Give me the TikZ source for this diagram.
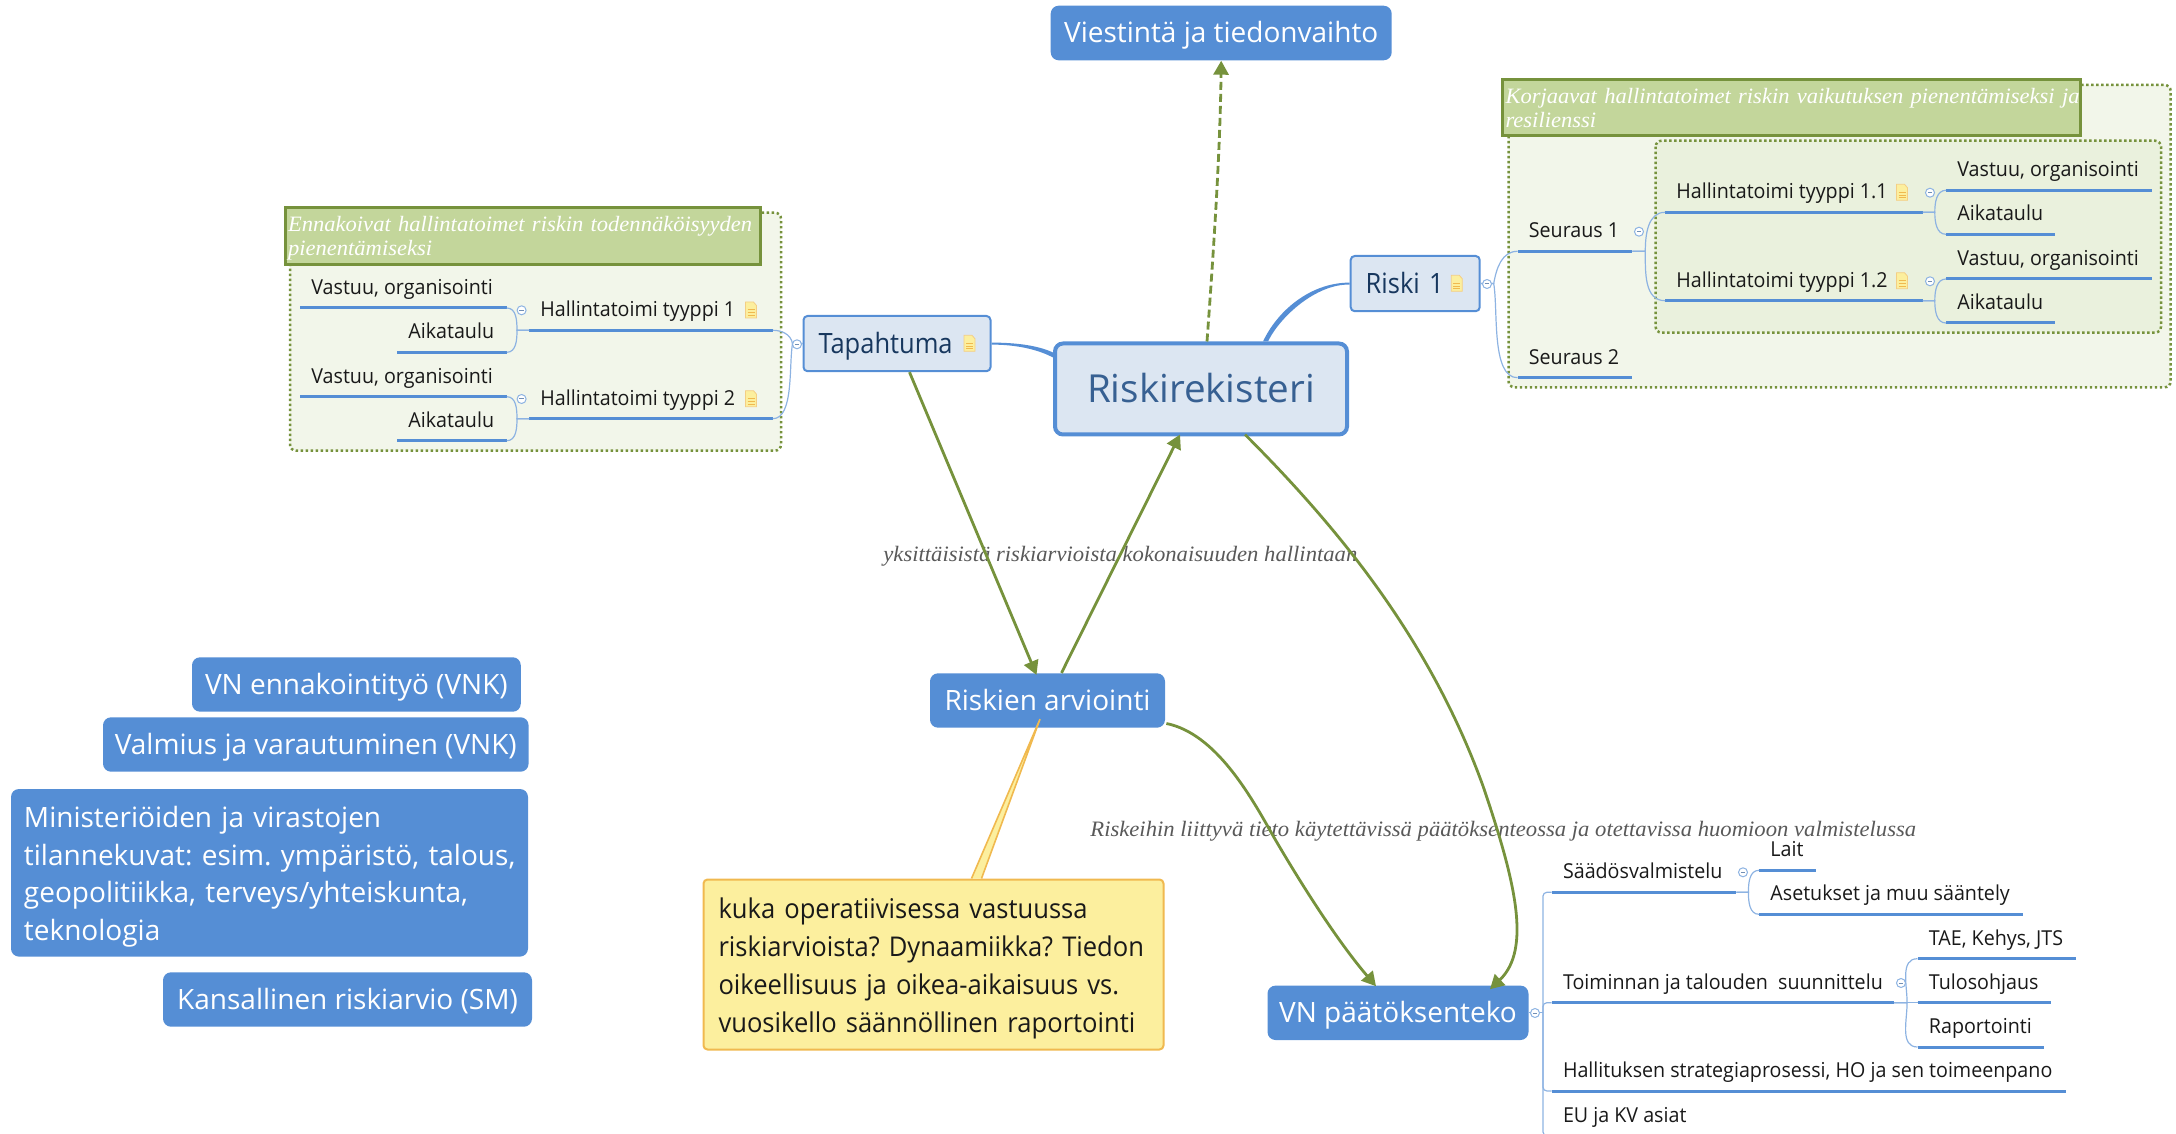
\documentclass[tikz,border=0pt]{standalone}
\usepackage{fontspec}
\setmainfont{Open Sans}
\newfontfamily\topicfont[FakeStretch=0.91]{Open Sans}
\newfontfamily\itemfont[FakeStretch=0.955]{Open Sans}
\newfontfamily\bodyfont[FakeStretch=0.94]{Open Sans}
\newfontfamily\notefont[FakeStretch=1.03]{Liberation Serif}
\usetikzlibrary{arrows.meta,calc}

\definecolor{boxblue}{HTML}{558ED5}
\definecolor{paleblue}{HTML}{DCE6F2}
\definecolor{thinblue}{HTML}{8DB3E2}
\definecolor{topictext}{HTML}{17375E}
\definecolor{maintext}{HTML}{376092}
\definecolor{arrowgreen}{HTML}{76923C}
\definecolor{headgreen}{HTML}{C3D69B}
\definecolor{panelgreen}{HTML}{F2F6EA}
\definecolor{innergreen}{HTML}{EAF1DD}
\definecolor{noteyellow}{HTML}{FCEF9E}
\definecolor{noteedge}{HTML}{F0B94F}

\tikzset{
  bluebox/.style={fill=boxblue,text=white,rounded corners=4pt,inner sep=0pt,
    font=\fontsize{14}{18.85}\selectfont\frenchspacing},
  oneline/.style={text height=10pt,text depth=0pt},
  topicbox/.style={draw=boxblue,fill=paleblue,line width=1pt,rounded corners=2pt,inner xsep=7.5pt,inner ysep=0pt,
    font=\topicfont\fontsize{14}{17}\selectfont,text=topictext,text height=9.7pt,text depth=0pt,align=left},
  item/.style={anchor=south west,inner xsep=0pt,inner ysep=6.5pt,
    font=\itemfont\fontsize{10.3}{12}\selectfont,text=black!90,text height=8pt,text depth=0pt,
    execute at begin node={\hbox to #1\bgroup\hskip5.5pt},execute at end node={\hfil\egroup}},
  underline/.style={boxblue,line width=1.5pt},
  branch/.style={thinblue,line width=0.6pt},
  panel/.style={draw=arrowgreen,line width=1.25pt,dash pattern=on 1.2pt off 1.3pt,rounded corners=3pt},
  headbox/.style={draw=arrowgreen,fill=headgreen,line width=1.5pt,text=white,align=left,inner xsep=1.5pt,inner ysep=0pt,
    font=\notefont\itshape\fontsize{10.95}{12}\selectfont\frenchspacing,text depth=12pt},
  linknote/.style={text=black!65,inner sep=0pt,anchor=base west,font=\notefont\itshape\fontsize{11}{12}\selectfont},
  relation/.style={arrowgreen,line width=1.4pt,-{Triangle[length=7pt,width=7.5pt]}},
  noteicon/.pic={
    \filldraw[fill=noteyellow,draw=noteedge!70,line width=0.4pt] (-5.5,-8) -- (2.5,-8) -- (5.5,-4.5) -- (5.5,8) -- (-5.5,8) -- cycle;
    \draw[noteedge,line width=0.5pt] (-3.5,0) -- (3.5,0) (-3.5,3) -- (3.5,3) (-3.5,5.5) -- (3.5,5.5);
  },
  foldmark/.pic={
    \filldraw[fill=white,draw=thinblue,line width=0.5pt] (0,0) circle (4.5);
    \draw[thinblue!80!black,line width=0.5pt] (-2.2,0) -- (2.2,0);
  }
}

\begin{document}
\begin{tikzpicture}[x=0.5pt,y=-0.5pt]
  \clip (0,0) rectangle (2176,1134);

  % panels behind the branches
  \draw[panel,fill=panelgreen] (290,212.7) rectangle (781,450.7);
  \draw[panel,fill=panelgreen] (1508.5,85) rectangle (2170.7,387.3);
  \draw[panel,fill=innergreen] (1655.6,140.7) rectangle (2161,332.7);
  \node[headbox,minimum width=237.75pt,minimum height=28.5pt,text width=234.75pt] (headleft) at (522.8,236) {\mbox{Ennakoivat hallintatoimet riskin todennäköisyyden}\\pienentämiseksi};
  \node[headbox,minimum width=289pt,minimum height=28pt,text width=286pt] (headright) at (1791.5,107.8) {\mbox{Korjaavat hallintatoimet riskin vaikutuksen pienentämiseksi ja}\\resilienssi};

  % main boxes
  \node[draw=boxblue,fill=paleblue,line width=2pt,rounded corners=4pt,minimum width=146pt,minimum height=45.5pt,inner sep=0pt,
    text=maintext,font=\fontsize{19.3}{22}\selectfont,text height=13.5pt,text depth=0pt] (rekisteri) at (1201,389) {Riskirekisteri};
  \node[bluebox,oneline,minimum width=170.5pt,minimum height=27.3pt] (viestinta) at (1221.2,33) {Viestintä ja tiedonvaihto};
  \node[bluebox,oneline,minimum width=117.5pt,minimum height=27.2pt] (arviointi) at (1047.5,700.5) {Riskien arviointi};
  \node[bluebox,oneline,minimum width=130.5pt,minimum height=27.2pt] (paatos) at (1398,1012.8) {VN päätöksenteko};
  \node[topicbox,minimum height=27.6pt,text width=78.5pt] (tapahtuma) at (897,343.6) {Tapahtuma};
  \node[topicbox,minimum height=27.6pt,text width=49.5pt] (riski) at (1415.2,283.6) {Riski 1};

  % left boxes
  \node[bluebox,oneline,minimum width=164.4pt,minimum height=27.2pt] (ennakointi) at (356.4,684.5) {VN ennakointityö (VNK)};
  \node[bluebox,oneline,minimum width=212.8pt,minimum height=27.2pt] (valmius) at (315.8,744.5) {Valmius ja varautuminen (VNK)};
  \node[bluebox,inner xsep=6.5pt,minimum height=83.8pt,text width=245.5pt,align=left,text depth=56pt] (tilanne) at (269.5,872.8) {\mbox{Ministeriöiden ja virastojen}\\\mbox{tilannekuvat: esim. ympäristö, talous,}\\\mbox{geopolitiikka, terveys/yhteiskunta,}\\teknologia};
  \node[bluebox,oneline,minimum width=184.5pt,minimum height=27.2pt] (kansallinen) at (347.5,999.5) {Kansallinen riskiarvio (SM)};

  % note with its tail
  \node[draw=noteedge,fill=noteyellow,line width=1pt,rounded corners=2pt,inner xsep=7.5pt,inner ysep=0pt,minimum height=85pt,
    text width=215pt,align=left,font=\bodyfont\fontsize{13.6}{18.9}\selectfont\frenchspacing,text=black!90,text depth=56pt] (note) at (933.5,964.5) {\mbox{kuka operatiivisessa vastuussa}\\\mbox{riskiarvioista? Dynaamiikka? Tiedon}\\\mbox{oikeellisuus ja oikea-aikaisuus vs.}\\\mbox{vuosikello säännöllinen raportointi}};
  \filldraw[fill=noteyellow,draw=noteedge,line width=0.8pt] ($(note.north)+(38,0)$) -- ($(arviointi.south)+(-7.5,-9)$) -- ($(note.north)+(48,0)$);

  % link texts
  \node[linknote] (linktop) at (883,561) {yksittäisistä riskiarvioista kokonaisuuden hallintaan};
  \node[linknote] (linkbottom) at (1090,836.7) {Riskeihin liittyvä tieto käytettävissä päätöksenteossa ja otettavissa huomioon valmistelussa};

  % left group
  \node[item=103pt] (v1) at (300,308) {Vastuu, organisointi};
  \node[item=54.5pt] (a1) at (397,352.3) {Aikataulu};
  \node[item=121.5pt] (h1) at (529,330.3) {Hallintatoimi tyyppi 1};
  \node[item=103pt] (v2) at (300,396.7) {Vastuu, organisointi};
  \node[item=54.5pt] (a2) at (397,440.7) {Aikataulu};
  \node[item=121.5pt] (h2) at (529,418.7) {Hallintatoimi tyyppi 2};

  % right group
  \node[item=57pt] (s1) at (1517.5,251.3) {Seuraus 1};
  \node[item=57pt] (s2) at (1517.5,377.7) {Seuraus 2};
  \node[item=128.5pt] (h11) at (1665,212.3) {Hallintatoimi tyyppi 1.1};
  \node[item=128.5pt] (h12) at (1665,300.7) {Hallintatoimi tyyppi 1.2};
  \node[item=102.75pt] (v11) at (1946,190.3) {Vastuu, organisointi};
  \node[item=54.2pt] (a11) at (1946,234.3) {Aikataulu};
  \node[item=102.75pt] (v12) at (1946,279) {Vastuu, organisointi};
  \node[item=54.2pt] (a12) at (1946,323) {Aikataulu};

  % decision group
  \node[item=92pt] (saados) at (1551.6,892.3) {Säädösvalmistelu};
  \node[item=28pt] (lait) at (1759,870.3) {Lait};
  \node[item=131.5pt] (asetus) at (1759,914.3) {Asetukset ja muu sääntely};
  \node[item=170.85pt] (toiminta) at (1551.6,1002.7) {Toiminnan ja talouden\ \ suunnittelu};
  \node[item=79pt] (tae) at (1917.5,958.7) {TAE, Kehys, JTS};
  \node[item=66.5pt] (tulos) at (1917.5,1002.7) {Tulosohjaus};
  \node[item=62.75pt] (raportti) at (1917.5,1047) {Raportointi};
  \node[item=257pt] (hallitus) at (1551.6,1091) {Hallituksen strategiaprosessi, HO ja sen toimeenpano};
  \node[item=150pt] (eu) at (1551.6,1135.7) {EU ja KV asiat};

  \foreach \n in {v1,a1,h1,v2,a2,h2,s1,s2,h11,h12,v11,a11,v12,a12,saados,lait,asetus,toiminta,tae,tulos,raportti,hallitus}
    \draw[underline] (\n.south west) -- (\n.south east);

  % thin branches
  \foreach \h/\u/\d in {h1/v1/a1,h2/v2/a2} {
    \draw[branch] (\h.south west) -- ++(-12,0) to[out=90,in=0] (\u.south east);
    \draw[branch] (\h.south west) -- ++(-12,0) to[out=-90,in=0] (\d.south east);
  }
  \foreach \h/\u/\d in {h11/v11/a11,h12/v12/a12} {
    \draw[branch] (\h.south east) -- ++(12,0) to[out=90,in=180] (\u.south west);
    \draw[branch] (\h.south east) -- ++(12,0) to[out=-90,in=180] (\d.south west);
  }
  \draw[branch] (tapahtuma.west) -- ++(-10,0) to[out=100,in=0] (h1.south east);
  \draw[branch] (tapahtuma.west) -- ++(-10,0) to[out=-100,in=0,looseness=0.7] (h2.south east);
  \draw[branch] (riski.east) -- ++(13,0) to[out=80,in=180] (s1.south west);
  \draw[branch] (riski.east) -- ++(13,0) to[out=-80,in=180,looseness=0.7] (s2.south west);
  \draw[branch] (s1.south east) -- ++(13,0) to[out=90,in=180] (h11.south west);
  \draw[branch] (s1.south east) -- ++(13,0) to[out=-90,in=180] (h12.south west);
  \draw[branch] (saados.south east) -- ++(12,0) to[out=90,in=180] (lait.south west);
  \draw[branch] (saados.south east) -- ++(12,0) to[out=-90,in=180] (asetus.south west);
  \draw[branch] (toiminta.south east) -- ++(13,0) to[out=90,in=180] (tae.south west);
  \draw[branch] (toiminta.south east) -- (tulos.south west);
  \draw[branch] (toiminta.south east) -- ++(13,0) to[out=-90,in=180] (raportti.south west);
  \coordinate (paatoshub) at ($(paatos.east)+(14,0)$);
  \draw[branch] (paatos.east) -- (paatoshub);
  \foreach \n in {saados,toiminta,hallitus,eu}
    \draw[branch,rounded corners=2pt] (paatoshub) |- (\n.south west);

  % tapering links into the centre
  \fill[boxblue] ($(riski.west)+(0,-1)$) .. controls +(-40,0) and +(14,-30) .. ($(rekisteri.north)+(62,0)$) -- ($(rekisteri.north)+(67,0)$) .. controls +(12,-25) and +(-33,-1) .. ($(riski.west)+(0,1)$) -- cycle;
  \fill[boxblue] ($(tapahtuma.east)+(0,-1)$) .. controls +(25,0) and +(-15,-7) .. ($(rekisteri.north west)+(0,11)$) -- ($(rekisteri.north west)+(0,16)$) .. controls +(-15,-8) and +(25,0) .. ($(tapahtuma.east)+(0,1)$) -- cycle;

  % relations
  \draw[relation,dash pattern=on 4pt off 2pt] ($(rekisteri.north)+(6,0)$) .. controls +(8,-110) and +(-1,85) .. (viestinta.south);
  \draw[relation] ($(tapahtuma.south)+(12.5,0)$) -- ($(arviointi.north)+(-11,2)$);
  \draw[relation] ($(arviointi.north)+(14,0)$) -- ($(rekisteri.south)+(-21,-2)$);
  \draw[relation] ($(rekisteri.south)+(44,-2)$) .. controls +(95,95) and +(-53,-146) .. (1483,786) .. controls +(32,94) and +(42,-40) .. ($(paatos.north)+(92,4)$);
  \draw[relation] ($(arviointi.east)+(1,23)$) .. controls +(49,10) and +(-23,-41) .. (1273,835.7) .. controls +(32,55) and +(-36,-42) .. ($(paatos.north)+(-22,1)$);

  % note icons
  \pic at (751,310) {noteicon};
  \pic at (751,398.7) {noteicon};
  \pic at (969.5,343.3) {noteicon};
  \pic at (1456.8,283.3) {noteicon};
  \pic at (1902,192.3) {noteicon};
  \pic at (1902,280.7) {noteicon};

  % fold marks
  \pic at (521.6,310.3) {foldmark};
  \pic at (521.6,399) {foldmark};
  \pic at (797,344.3) {foldmark};
  \pic at (1487,284) {foldmark};
  \pic at (1639,231.7) {foldmark};
  \pic at (1930,192.7) {foldmark};
  \pic at (1930,281.3) {foldmark};
  \pic at (1743,872.3) {foldmark};
  \pic at (1901,983) {foldmark};
  \pic at (1535,1013) {foldmark};
\end{tikzpicture}
\end{document}
